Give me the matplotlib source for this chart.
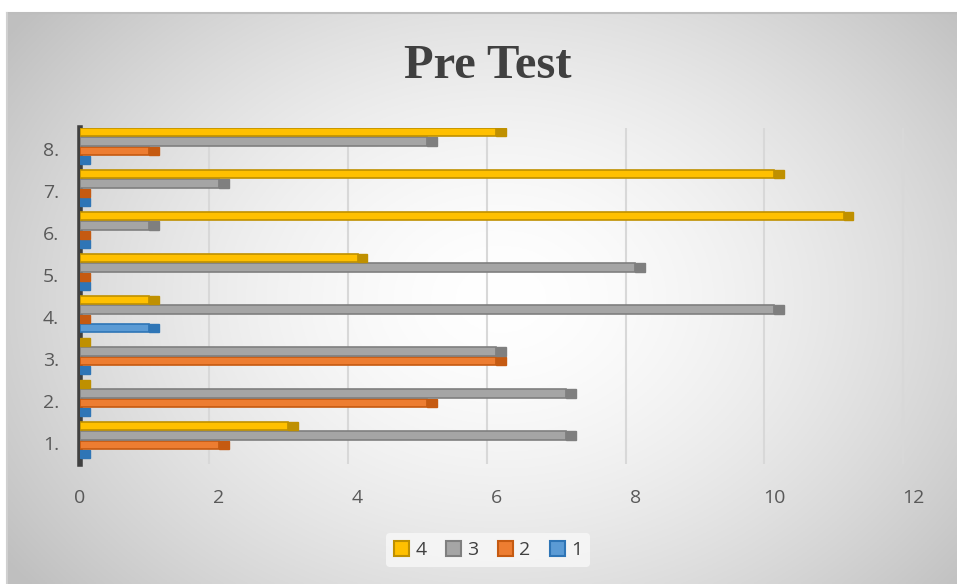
import numpy as np
import matplotlib
matplotlib.use("Agg")
import matplotlib.pyplot as plt
from matplotlib.lines import Line2D
from matplotlib.patches import Rectangle

categories = ["1.", "2.", "3.", "4.", "5.", "6.", "7.", "8."]
series_names = ["1", "2", "3", "4"]
s1 = [0, 0, 0, 1, 0, 0, 0, 0]
s2 = [2, 5, 6, 0, 0, 0, 0, 1]
s3 = [7, 7, 6, 10, 8, 1, 2, 5]
s4 = [3, 0, 0, 1, 4, 11, 10, 6]
x_ticks = [0, 2, 4, 6, 8, 10, 12]

face = ["#5B9BD5", "#ED7D31", "#A5A5A5", "#FFC000"]
edge = ["#2E75B6", "#C55A11", "#7F7F7F", "#BF9000"]

fig = plt.figure(figsize=(9.57, 5.84), dpi=100)

# radial gradient background for the chart area
bg = fig.add_axes([7 / 957, 0, 950 / 957, 571 / 584], zorder=-10)
yy, xx = np.mgrid[0:1:300j, 0:1:500j]
r = np.sqrt(((xx - 0.52) / 0.75) ** 2 + ((yy - 0.5) / 0.95) ** 2)
shade = 1.0 - 0.25 * np.clip(r / 0.85, 0, 1) ** 1.6
bg.imshow(np.dstack([shade] * 3), aspect="auto", extent=[0, 1, 0, 1], origin="lower")
bg.set_axis_off()
fig.add_artist(Line2D([7 / 957, 1], [571 / 584, 571 / 584], color="#bdbdbd", lw=1.5))
fig.add_artist(Line2D([7 / 957, 7 / 957], [0, 571 / 584], color="#d0d0d0", lw=1.5))

ax = fig.add_axes([80 / 957, 120 / 584, 833 / 957, 336 / 584])
ax.patch.set_alpha(0)

y = np.arange(1, len(categories) + 1)
step = 0.222
h = 0.2
depth = 0.14
data = [s1, s2, s3, s4]
for i, vals in enumerate(data):
    pos = y + (i - 1.5) * step + 0.07
    ax.barh(pos, vals, height=h, color=face[i], edgecolor=edge[i], linewidth=1.2, zorder=3)
    ax.barh(pos, [depth] * len(vals), left=vals, height=h, color=edge[i],
            edgecolor=edge[i], linewidth=1.0, zorder=3)

ax.set_xlim(0, 12)
ax.set_ylim(0.5, 8.5)
ax.set_xticks(x_ticks)
ax.set_yticks(y)
ax.set_yticklabels(categories)
for xt in x_ticks[1:]:
    ax.plot([xt - 0.14, xt - 0.14], [0.5, 8.5], color="#d8d8d8", lw=1.5, zorder=1)
for s in ["top", "right", "bottom"]:
    ax.spines[s].set_visible(False)
ax.spines["left"].set_color("#404040")
ax.spines["left"].set_linewidth(4)
ax.tick_params(length=0, labelsize=14, colors="#595959")
ax.tick_params(axis="x", pad=18)
ax.tick_params(axis="y", pad=15)
for lab in ax.get_xticklabels() + ax.get_yticklabels():
    lab.set_family("Open Sans")

fig.text(0.51, 0.887, "Pre Test", ha="center", va="center", fontsize=35,
         fontweight="bold", family="Liberation Serif", color="#404040")

handles = [Rectangle((0, 0), 1, 1, facecolor=face[i], edgecolor=edge[i], lw=1.5)
           for i in [3, 2, 1, 0]]
leg = fig.legend(handles, [series_names[i] for i in [3, 2, 1, 0]], loc="center",
                 bbox_to_anchor=(0.51, 0.058), ncol=4, frameon=True,
                 handlelength=0.8, handleheight=0.8, handletextpad=0.3, columnspacing=1.0,
                 prop={"family": "Open Sans", "size": 14})
leg.get_frame().set_facecolor("#f8f8f8")
leg.get_frame().set_edgecolor("none")
leg.get_frame().set_alpha(0.8)
for t in leg.get_texts():
    t.set_color("#404040")

fig.savefig("out.png", dpi=100)
